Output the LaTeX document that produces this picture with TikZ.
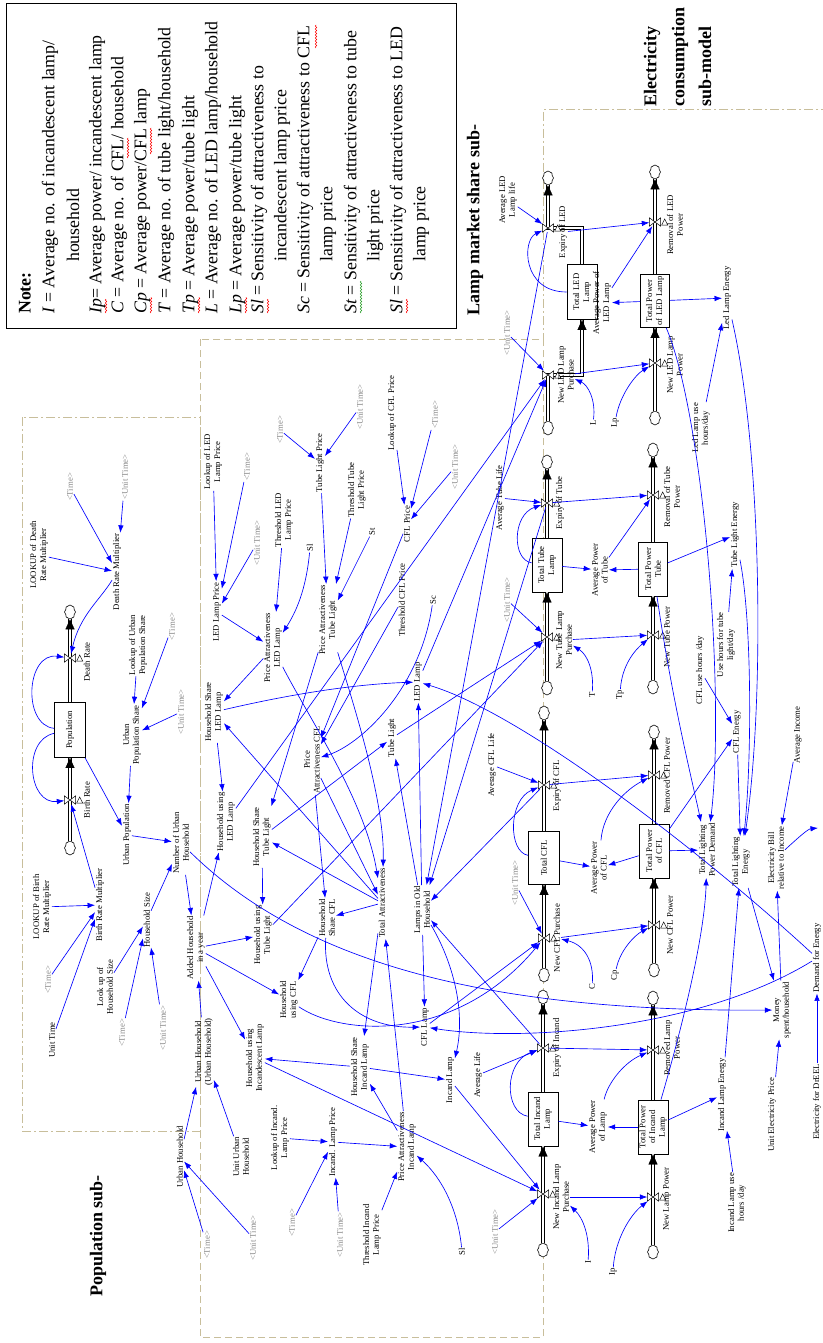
\documentclass[tikz,border=0pt]{standalone}
\usepackage{fontspec}
\setmainfont{Liberation Serif}
\usetikzlibrary{arrows.meta,shapes.symbols,decorations.pathmorphing}
\definecolor{tanc}{RGB}{200,190,155}
\definecolor{conb}{RGB}{0,0,255}
\definecolor{spellg}{RGB}{40,160,40}
\newcommand\fsm{\fontsize{8.7}{9.8}\selectfont}
\newcommand\fnote{\fontsize{17.8}{22}\selectfont}
\newcommand\ftitle{\fontsize{18}{22}\selectfont\bfseries}
\newcommand\myValve[3]{\node[vlv] (#1) at (#2,#3) {};\draw[valvesh] (#1.south west) -- (#1.north east) -- (#1.south east) -- (#1.north west) -- cycle;\draw[valvesh] ([xshift=1pt,yshift=-3pt]#1.east) -- ++(6,0) -- ++(-3,-6) -- cycle;}
\tikzset{
 v/.style={rotate=90, font=\fsm, align=center, inner sep=0.8pt},
 g/.style={v, text=black!45},
 stk/.style={draw, rotate=90, font=\fsm, align=center, inner sep=0.5pt, fill=white, line width=0.8pt},
 con/.style={conb, line width=0.65pt, -{Latex[length=7.5pt,width=5.5pt]}},
 pipe/.style={draw=black, double=white, double distance=2.6pt, line width=0.8pt},
 ptip/.style={white, line width=0.2pt, -{Triangle[length=10pt,width=9pt,color=black,fill=black]}},
 cld/.style={cloud, draw, cloud puffs=8, cloud puff arc=110, aspect=0.8, minimum width=11pt, minimum height=14pt, inner sep=0pt, fill=white, line width=0.6pt},
 vlv/.style={minimum width=11pt, minimum height=8pt, inner sep=0pt},
 valvesh/.style={draw=black, fill=white, line width=0.5pt},
 bxa/.style={draw=tanc, line width=1pt, dash pattern=on 9pt off 3pt on 2pt off 3pt},
 bxb/.style={draw=tanc, line width=1pt, dash pattern=on 7pt off 4pt},
 nt/.style={rotate=90, anchor=west, font=\fnote, inner sep=0pt},
 ttl/.style={rotate=90, anchor=west, font=\ftitle, inner sep=0pt},
 spr/.style={red, line width=0.5pt, decorate, decoration={snake, amplitude=0.8pt, segment length=3pt}},
 spg/.style={spr, spellg},
}
\begin{document}
\begin{tikzpicture}[x=1pt,y=-1pt]
\useasboundingbox (0,0) rectangle (822,1343);
\fill[white] (0,0) rectangle (822,1343);

% ---------- note box ----------
\node[draw, line width=0.8pt, minimum width=450pt, minimum height=325pt, inner sep=0pt, anchor=north west] (notebox) at (6,3) {};
\node[nt, font=\fnote\bfseries] (n0) at (25,314) {Note:};
\node[nt] (n1) at (50,314) {\textit{I} = Average no. of incandescent lamp/};
\node[nt] (n2) at (73,262) {household};
\node[nt] (n3) at (97,314) {\textit{Ip}= Average power/ incandescent lamp};
\node[nt] (n4) at (119,314) {\textit{C} = Average no. of CFL/ household};
\node[nt] (n5) at (142,314) {\textit{Cp} = Average power/CFL lamp};
\node[nt] (n6) at (166,314) {\textit{T} = Average no. of tube light/household};
\node[nt] (n7) at (190,314) {\textit{Tp} = Average power/tube light};
\node[nt] (n8) at (213,314) {\textit{L} = Average no. of LED lamp/household};
\node[nt] (n9) at (237,314) {\textit{Lp} = Average power/tube light};
\node[nt] (n10) at (259,314) {\textit{Sl} = Sensitivity of attractiveness to};
\node[nt] (n11) at (282,262) {incandescent lamp price};
\node[nt] (n12) at (305,314) {\textit{Sc} = Sensitivity of attractiveness to CFL};
\node[nt] (n13) at (328,262) {lamp price};
\node[nt] (n14) at (352,314) {\textit{St} = Sensitivity of attractiveness to tube};
\node[nt] (n15) at (375,262) {light price};
\node[nt] (n16) at (398,314) {\textit{Sl} = Sensitivity of attractiveness to LED};
\node[nt] (n17) at (421,262) {lamp price};
% spelling marks
\draw[spr] (106,313) -- (106,299);
\draw[spr] (128,158) -- (128,138);
\draw[spr] (151,313) -- (151,297);
\draw[spr] (151,154) -- (151,128);
\draw[spr] (199,313) -- (199,297);
\draw[spr] (246,313) -- (246,297);
\draw[spr] (268,313) -- (268,299);
\draw[spr] (316,48) -- (316,25);
\draw[spg] (361,313) -- (361,281);
\draw[spr] (407,313) -- (407,299);

% ---------- sub-model frames and titles ----------
\draw[bxa] (22,417) rectangle (200,1131);
\draw[bxb] (200,339) rectangle (543,1337);
\draw[bxa] (830,110) -- (543,110) -- (543,339);
\node[v, font=\ftitle] (tPop) at (98,1236) {Population sub-};
\node[v, font=\ftitle] (tLamp) at (475,220) {Lamp market share sub-};
\node[ttl] (tEl1) at (652,107) {Electricity};
\node[ttl] (tEl2) at (680,107) {consumption};
\node[ttl] (tEl3) at (705,107) {sub-model};

% ---------- stocks and clouds ----------
\node[stk, minimum width=55pt, minimum height=31pt] (pop) at (70,730) {Population};
\node[cld] (cDR) at (70,612) {};
\node[cld] (cBR) at (70,848) {};

\node[stk, minimum width=55pt, minimum height=30pt] (totLED) at (582,292) {Total LED\\Lamp};
\node[cld] (cLEDt) at (548,178) {};
\node[cld] (cLEDb) at (548,428) {};
\node[stk, minimum width=53pt, minimum height=29pt] (tpLED) at (655,301) {Total Power\\of LED Lamp};
\node[cld] (cLPt) at (655,172) {};
\node[cld] (cLPb) at (655,418) {};

\node[stk, minimum width=54pt, minimum height=30pt] (totT) at (547,565) {Total Tube\\Lamp};
\node[cld] (cTt) at (547,462) {};
\node[cld] (cTb) at (547,688) {};
\node[stk, minimum width=54pt, minimum height=29pt] (tpT) at (653,569) {Total Power\\Tube};
\node[cld] (cTPt) at (653,450) {};
\node[cld] (cTPb) at (653,687) {};

\node[stk, minimum width=53pt, minimum height=31pt] (totCFL) at (544,858) {Total CFL};
\node[cld] (cCt) at (544,713) {};
\node[cld] (cCb) at (544,975) {};
\node[stk, minimum width=54pt, minimum height=30pt] (tpCFL) at (654,851) {Total Power\\of CFL};
\node[cld] (cCPt) at (654,732) {};
\node[cld] (cCPb) at (654,970) {};

\node[stk, minimum width=54pt, minimum height=30pt] (totInc) at (543,1119) {Total Incand\\Lamp};
\node[cld] (cIt) at (543,997) {};
\node[cld] (cIb) at (543,1250) {};
\node[stk, minimum width=54pt, minimum height=30pt] (tpInc) at (653,1127) {Total Power\\of Incand\\Lamp};
\node[cld] (cIPt) at (653,998) {};
\node[cld] (cIPb) at (653,1252) {};

% valve centres
\coordinate (pExLED) at (548,228); \coordinate (pNLED) at (548,375);
\coordinate (kLEDa) at (582,228); \coordinate (kLEDb) at (582,375);

% ---------- pipes ----------
\draw[pipe] (pop) -- (cDR);  \draw[ptip] (70,640) -- (cDR);
\draw[pipe] (cBR) -- (pop);  \draw[ptip] (70,785) -- (pop);
\draw[pipe] (totLED.east) -- (kLEDa) -- (pExLED) -- (cLEDt); \draw[ptip] (pExLED) -- (cLEDt);
\draw[pipe] (cLEDb) -- (pNLED) -- (kLEDb) -- (totLED.west); \draw[ptip] (kLEDb) -- (totLED.west);
\draw[pipe] (tpLED) -- (cLPt); \draw[ptip] (655,210) -- (cLPt);
\draw[pipe] (cLPb) -- (tpLED); \draw[ptip] (655,350) -- (tpLED);
\draw[pipe] (totT) -- (cTt); \draw[ptip] (547,495) -- (cTt);
\draw[pipe] (cTb) -- (totT); \draw[ptip] (547,625) -- (totT);
\draw[pipe] (tpT) -- (cTPt); \draw[ptip] (653,485) -- (cTPt);
\draw[pipe] (cTPb) -- (tpT); \draw[ptip] (653,625) -- (tpT);
\draw[pipe] (totCFL) -- (cCt); \draw[ptip] (544,775) -- (cCt);
\draw[pipe] (cCb) -- (totCFL); \draw[ptip] (544,925) -- (totCFL);
\draw[pipe] (tpCFL) -- (cCPt); \draw[ptip] (654,765) -- (cCPt);
\draw[pipe] (cCPb) -- (tpCFL); \draw[ptip] (654,915) -- (tpCFL);
\draw[pipe] (totInc) -- (cIt); \draw[ptip] (543,1040) -- (cIt);
\draw[pipe] (cIb) -- (totInc); \draw[ptip] (543,1185) -- (totInc);
\draw[pipe] (tpInc) -- (cIPt); \draw[ptip] (653,1040) -- (cIPt);
\draw[pipe] (cIPb) -- (tpInc); \draw[ptip] (653,1187) -- (tpInc);

% ---------- valves ----------
\myValve{vDR}{70}{658}
\myValve{vBR}{70}{800}
\myValve{vExLED}{548}{228}
\myValve{vNLED}{548}{375}
\myValve{vRLP}{655}{222}
\myValve{vNLP}{655}{363}
\myValve{vExT}{547}{503}
\myValve{vNT}{547}{637}
\myValve{vRTP}{653}{495}
\myValve{vNTP}{653}{635}
\myValve{vExCFL}{544}{785}
\myValve{vNCFL}{544}{938}
\myValve{vRCP}{654}{775}
\myValve{vNCP}{654}{925}
\myValve{vExInc}{543}{1048}
\myValve{vNInc}{543}{1194}
\myValve{vRIP}{653}{1050}
\myValve{vNIP}{653}{1197}

% ---------- population sub-model labels ----------
\node[v] (lDR) at (87,662) {Death Rate};
\node[v] (lBR) at (87,800) {Birth Rate};
\node[v] (lkDRM) at (39,555) {LOOKUP of Death\\Rate Multiplier};
\node[g] (tm1) at (70,487) {<Time>};
\node[g] (ut1) at (125,477) {<Unit Time>};
\node[v] (DRM) at (117,572) {Death Rate Multiplier};
\node[v] (lkUPS) at (138,645) {Lookup of Urban\\Population Share};
\node[g] (tm2) at (172,627) {<Time>};
\node[g] (ut2) at (181,712) {<Unit Time>};
\node[v] (UPS) at (132,735) {Urban\\Population Share};
\node[v] (UP) at (127,835) {Urban Population};
\node[v] (NUH) at (181,843) {Number of Urban\\Household};
\node[v] (lkBRM) at (42,907) {LOOKUP of Birth\\Rate Multiplier};
\node[v] (BRM) at (100,905) {Birth Rate Multiplier};
\node[g] (tm3) at (48,980) {<Time>};
\node[v] (UT) at (52,1040) {Unit Time};
\node[v] (HS) at (147,920) {Household Size};
\node[v] (lkHS) at (105,987) {Look up of\\Household Size};
\node[g] (tm4) at (122,1033) {<Time>};
\node[g] (ut3) at (163,1028) {<Unit Time>};
\node[v] (AH) at (196,948) {Added Household\\in a year};
\node[v] (UHUH) at (204,1052) {Urban Household\\(Urban Household)};
\node[v] (UH) at (180,1157) {Urban Household};
\node[g] (tm5) at (207,1245) {<Time>};
\node[g] (ut4) at (253,1238) {<Unit Time>};
\node[v] (UUH) at (241,1157) {Unit Urban\\Household};

% ---------- lamp market share labels ----------
\node[v] (lkLEDP) at (213,462) {Lookup of LED\\Lamp Price};
\node[g] (tm6) at (247,467) {<Time>};
\node[g] (ut5) at (257,543) {<Unit Time>};
\node[v] (LEDP) at (217,612) {LED Lamp Price};
\node[g] (tm7) at (280,430) {<Time>};
\node[g] (ut6) at (360,407) {<Unit Time>};
\node[v] (TLP) at (320,463) {Tube Light Price};
\node[v] (thLED) at (284,520) {Threshold LED\\Lamp Price};
\node[v] (PALED) at (273,648) {Price Attractiveness\\LED Lamp};
\node[v] (slLED) at (310,548) {Sl};
\node[v] (thT) at (357,490) {Threshold Tube\\Light Price};
\node[v] (St) at (372,532) {St};
\node[v] (PAT) at (328,620) {Price Attractiveness\\Tube Light};
\node[v] (lkCFL) at (392,413) {Lookup of CFL Price};
\node[g] (tm8) at (435,415) {<Time>};
\node[g] (ut7) at (455,467) {<Unit Time>};
\node[v] (CFLP) at (407,524) {CFL Price};
\node[v] (thCFL) at (402,600) {Threshold CFL Price};
\node[v] (Sc) at (433,600) {Sc};
\node[v] (PACFL) at (312,760) {Price\\Attractiveness CFL};
\node[v] (HSLED) at (214,712) {Household Share\\LED Lamp};
\node[v] (HULED) at (226,822) {Household using\\LED Lamp};
\node[v] (HST) at (262,837) {Household Share\\Tube Light};
\node[v] (HUT) at (263,935) {Household using\\Tube Light};
\node[v] (HUCFL) at (289,1000) {Household\\using CFL};
\node[v] (HSCFL) at (327,918) {Household\\Share CFL};
\node[v] (TA) at (382,903) {Total Attractiveness};
\node[v] (LOH) at (422,910) {Lamps in Old\\Household};
\node[v] (LEDL) at (418,682) {LED Lamp};
\node[v] (TubeL) at (392,738) {Tube Light};
\node[v] (CFLL) at (425,1027) {CFL Lamp};
\node[v] (IncL) at (450,1080) {Incand Lamp};
\node[v] (HSInc) at (360,1067) {Household Share\\Incand Lamp};
\node[v] (HUInc) at (255,1058) {Household using\\Incandescent Lamp};
\node[v] (PAInc) at (407,1147) {Price Attractiveness\\Incand Lamp};
\node[v] (lkInc) at (280,1138) {Lookup of Incand.\\Lamp Price};
\node[v] (IncP) at (333,1142) {Incand. Lamp Price};
\node[g] (tm9) at (292,1223) {<Time>};
\node[g] (ut8) at (340,1235) {<Unit Time>};
\node[v] (thInc) at (372,1235) {Threshold Incand\\Lamp Price};
\node[v] (slInc) at (462,1252) {Sl};

% ---------- chain labels ----------
\node[v] (avLED) at (508,200) {Average LED\\Lamp life};
\node[v] (lExLED) at (563,232) {Expiry of LED};
\node[v] (apLED) at (602,303) {Average Power of\\LED Lamp};
\node[v] (lRLP) at (675,225) {Removal of LED\\Power};
\node[v] (eLED) at (727,298) {Led Lamp Energy};
\node[v] (lNLED) at (566,375) {New LED Lamp\\Purchase};
\node[g] (ut9) at (507,333) {<Unit Time>};
\node[v] (lNLP) at (675,365) {New LED Lamp\\Power};
\node[v] (useLED) at (701,428) {Led Lamp use\\hours/day};
\node[v] (L) at (593,423) {L};
\node[v] (Lp) at (615,423) {Lp};
\node[v] (avT) at (500,498) {Average Tube Life};
\node[v] (lExT) at (560,503) {Expiry of Tube};
\node[v] (apT) at (600,570) {Average Power\\of Tube};
\node[v] (lRTP) at (672,497) {Removal of Tube\\Power};
\node[v] (eT) at (735,535) {Tube Light Energy};
\node[v] (useT) at (726,645) {Use hours for tube\\light/day};
\node[v] (lNT) at (564,640) {New Tube Lamp\\Purchase};
\node[g] (ut10) at (507,600) {<Unit Time>};
\node[v] (T) at (592,695) {T};
\node[v] (Tp) at (620,695) {Tp};
\node[v] (lNTP) at (667,637) {New Tube Power};
\node[v] (useCFL) at (700,670) {CFL use hours /day};
\node[v] (eCFL) at (737,732) {CFL Energy};
\node[v] (AI) at (798,735) {Average Income};
\node[v] (avCFL) at (492,765) {Average CFL Life};
\node[v] (lExCFL) at (557,786) {Expiry of CFL};
\node[v] (apCFL) at (599,868) {Average Power\\of CFL};
\node[v] (lRCP) at (667,776) {Removed CFL Power};
\node[v] (TLPD) at (707,850) {Total Lighting\\Power Demand};
\node[v] (TLE) at (741,862) {Total Lighting\\Energy};
\node[v] (EB) at (776,858) {Electricity Bill\\relative to Income};
\node[v] (lNCFL) at (557,938) {New CFL Purchase};
\node[g] (ut11) at (515,883) {<Unit Time>};
\node[v] (C) at (592,987) {C};
\node[v] (Cp) at (615,975) {Cp};
\node[v] (lNCP) at (670,925) {New CFL Power};
\node[v] (MS) at (782,1010) {Money\\spent/household};
\node[v] (DfE) at (817,958) {Demand for Energy};
\node[v] (avInc) at (478,1075) {Average Life};
\node[v] (lExInc) at (557,1048) {Expiry of Incand};
\node[v] (apInc) at (598,1127) {Average Power\\of Lamp};
\node[v] (lRIP) at (672,1048) {Removed Lamp\\Power};
\node[v] (eInc) at (722,1095) {Incand Lamp Energy};
\node[v] (useInc) at (737,1203) {Incand Lamp use\\hours /day};
\node[v] (lNInc) at (561,1197) {New Incand Lamp\\Purchase};
\node[g] (ut12) at (495,1232) {<Unit Time>};
\node[v] (I) at (588,1262) {I};
\node[v] (Ip) at (613,1272) {Ip};
\node[v] (lNIP) at (667,1199) {New Lamp Power};
\node[v] (UEP) at (772,1115) {Unit Electricity Price};
\node[v] (EfD) at (817,1102) {Electricity for DrEEL};
\coordinate (offR) at (818,828);

% ---------- connectors: population ----------
\draw[con] (pop) .. controls (22,725) and (26,652) .. (vDR);
\draw[con] (pop) .. controls (22,740) and (28,805) .. (vBR);
\draw[con] (lkDRM) -- (DRM);
\draw[con] (tm1) -- (DRM);
\draw[con] (ut1) -- (DRM);
\draw[con] (DRM) .. controls (100,600) and (80,615) .. (vDR);
\draw[con] (lkUPS) -- (UPS);
\draw[con] (tm2) -- (UPS);
\draw[con] (ut2) -- (UPS);
\draw[con] (UPS) -- (UP);
\draw[con] (pop) -- (UP);
\draw[con] (UP) -- (NUH);
\draw[con] (lkBRM) -- (BRM);
\draw[con] (tm3) -- (BRM);
\draw[con] (UT) -- (BRM);
\draw[con] (BRM) -- (vBR);
\draw[con] (HS) .. controls (158,895) and (165,880) .. (NUH);
\draw[con] (lkHS) -- (HS);
\draw[con] (tm4) -- (HS);
\draw[con] (ut3) -- (HS);
\draw[con] (NUH) -- (AH);
\draw[con] (UHUH) -- (AH);
\draw[con] (UH) -- (UHUH);
\draw[con] (tm5) -- (UH);
\draw[con] (ut4) -- (UH);
\draw[con] (UUH) -- (UHUH);

% ---------- connectors: lamp market ----------
\draw[con] (lkLEDP) -- (LEDP);
\draw[con] (tm6) -- (LEDP);
\draw[con] (ut5) -- (LEDP);
\draw[con] (LEDP) -- (PALED);
\draw[con] (thLED) -- (PALED);
\draw[con] (slLED) .. controls (306,590) and (296,612) .. (PALED);
\draw[con] (tm7) -- (TLP);
\draw[con] (ut6) -- (TLP);
\draw[con] (TLP) -- (PAT);
\draw[con] (thT) -- (PAT);
\draw[con] (St) -- (PAT);
\draw[con] (lkCFL) -- (CFLP);
\draw[con] (tm8) -- (CFLP);
\draw[con] (ut7) -- (CFLP);
\draw[con] (CFLP) -- (PACFL);
\draw[con] (thCFL) -- (PACFL);
\draw[con] (Sc) .. controls (420,690) and (360,745) .. (PACFL);
\draw[con] (lkInc) -- (IncP);
\draw[con] (tm9) -- (IncP);
\draw[con] (ut8) -- (IncP);
\draw[con] (IncP) -- (PAInc);
\draw[con] (thInc) -- (PAInc);
\draw[con] (slInc) .. controls (458,1210) and (442,1178) .. (PAInc);
\draw[con] (PALED) -- (HSLED);
\draw[con] (TA) -- (HSLED);
\draw[con] (PAT) -- (HST);
\draw[con] (TA) -- (HST);
\draw[con] (PACFL) -- (HSCFL);
\draw[con] (TA) -- (HSCFL);
\draw[con] (PAInc) -- (HSInc);
\draw[con] (TA) -- (HSInc);
\draw[con] (PALED) .. controls (310,720) and (365,800) .. (TA);
\draw[con] (PAT) .. controls (352,700) and (385,800) .. (TA);
\draw[con] (PACFL) -- (TA);
\draw[con] (PAInc) -- (TA);
\draw[con] (HSLED) -- (HULED);
\draw[con] (AH) -- (HULED);
\draw[con] (HST) -- (HUT);
\draw[con] (AH) -- (HUT);
\draw[con] (HSCFL) -- (HUCFL);
\draw[con] (AH) -- (HUCFL);
\draw[con] (HSInc) -- (HUInc);
\draw[con] (AH) -- (HUInc);
\draw[con] (HSLED) .. controls (300,692) and (360,684) .. (LEDL);
\draw[con] (HST) -- (TubeL);
\draw[con] (HSCFL) .. controls (322,995) and (360,1028) .. (CFLL);
\draw[con] (HSInc) -- (IncL);
\draw[con] (LOH) -- (LEDL);
\draw[con] (LOH) -- (TubeL);
\draw[con] (LOH) -- (CFLL);
\draw[con] (LOH) .. controls (452,960) and (466,1010) .. (IncL);
\draw[con] (vExLED) -- (LOH);
\draw[con] (vExT) -- (LOH);
\draw[con] (vExCFL) -- (LOH);
\draw[con] (vExInc) -- (LOH);
\draw[con] (LEDL) -- (vNLED);
\draw[con] (HULED) -- (vNLED);
\draw[con] (TubeL) -- (vNT);
\draw[con] (HUT) -- (vNT);
\draw[con] (CFLL) -- (vNCFL);
\draw[con] (HUCFL) .. controls (340,1035) and (455,1045) .. (vNCFL);
\draw[con] (IncL) -- (vNInc);
\draw[con] (HUInc) -- (vNInc);
\draw[con] (ut9) -- (vNLED);
\draw[con] (ut10) -- (vNT);
\draw[con] (ut11) -- (vNCFL);
\draw[con] (ut12) -- (vNInc);
\draw[con] (avLED) -- (vExLED);
\draw[con] (avT) -- (vExT);
\draw[con] (avCFL) -- (vExCFL);
\draw[con] (avInc) -- (vExInc);
\draw[con] (totLED) .. controls (522,292) and (522,240) .. (vExLED);
\draw[con] (totT) .. controls (512,560) and (512,515) .. (vExT);
\draw[con] (totCFL) .. controls (508,852) and (508,800) .. (vExCFL);
\draw[con] (totInc) .. controls (504,1112) and (504,1062) .. (vExInc);
\draw[con] (L) .. controls (596,400) and (588,385) .. (lNLED);
\draw[con] (T) .. controls (594,672) and (588,655) .. (lNT);
\draw[con] (C) .. controls (594,962) and (585,945) .. (lNCFL);
\draw[con] (I) .. controls (590,1236) and (583,1218) .. (lNInc);

% ---------- connectors: electricity ----------
\draw[con] (lNLED) -- (vNLP);
\draw[con] (lNT) -- (vNTP);
\draw[con] (lNCFL) -- (vNCP);
\draw[con] (lNInc) -- (vNIP);
\draw[con] (Lp) .. controls (620,395) and (635,375) .. (vNLP);
\draw[con] (Tp) .. controls (622,665) and (635,650) .. (vNTP);
\draw[con] (Cp) .. controls (620,950) and (635,935) .. (vNCP);
\draw[con] (Ip) .. controls (615,1240) and (630,1215) .. (vNIP);
\draw[con] (lExLED) -- (vRLP);
\draw[con] (vExT) -- (vRTP);
\draw[con] (vExCFL) -- (vRCP);
\draw[con] (vExInc) -- (vRIP);
\draw[con] (apLED) -- (vRLP);
\draw[con] (apT) -- (vRTP);
\draw[con] (apCFL) .. controls (603,812) and (625,790) .. (vRCP);
\draw[con] (apInc) .. controls (608,1082) and (625,1062) .. (vRIP);
\draw[con] (tpLED) -- (apLED);
\draw[con] (totT) -- (apT);
\draw[con] (tpT) -- (apT);
\draw[con] (totCFL) -- (apCFL);
\draw[con] (tpCFL) -- (apCFL);
\draw[con] (totInc) -- (apInc);
\draw[con] (tpInc) -- (apInc);
\draw[con] (tpLED) -- (eLED);
\draw[con] (tpT) -- (eT);
\draw[con] (tpCFL) -- (eCFL);
\draw[con] (tpInc) -- (eInc);
\draw[con] (useLED) -- (eLED);
\draw[con] (useT) -- (eT);
\draw[con] (useCFL) -- (eCFL);
\draw[con] (useInc) -- (eInc);
\draw[con] (tpLED) .. controls (705,420) and (725,700) .. (TLPD);
\draw[con] (tpT) .. controls (672,700) and (692,780) .. (TLPD);
\draw[con] (tpCFL) -- (TLPD);
\draw[con] (tpInc) .. controls (690,1000) and (705,925) .. (TLPD);
\draw[con] (eLED) .. controls (762,450) and (765,700) .. (TLE);
\draw[con] (eT) .. controls (752,620) and (752,760) .. (TLE);
\draw[con] (eCFL) -- (TLE);
\draw[con] (eInc) -- (TLE);
\draw[con] (TLE) -- (MS);
\draw[con] (NUH) .. controls (300,960) and (480,1012) .. (MS);
\draw[con] (UEP) -- (MS);
\draw[con] (MS) -- (EB);
\draw[con] (AI) -- (EB);
\draw[con] (EB) .. controls (800,836) and (808,829) .. (offR);
\draw[con] (EfD) -- (DfE);
\draw[con] (DfE) .. controls (700,850) and (520,712) .. (LEDL);
\draw[con] (DfE) .. controls (700,1030) and (520,1042) .. (CFLL);
\end{tikzpicture}
\end{document}
